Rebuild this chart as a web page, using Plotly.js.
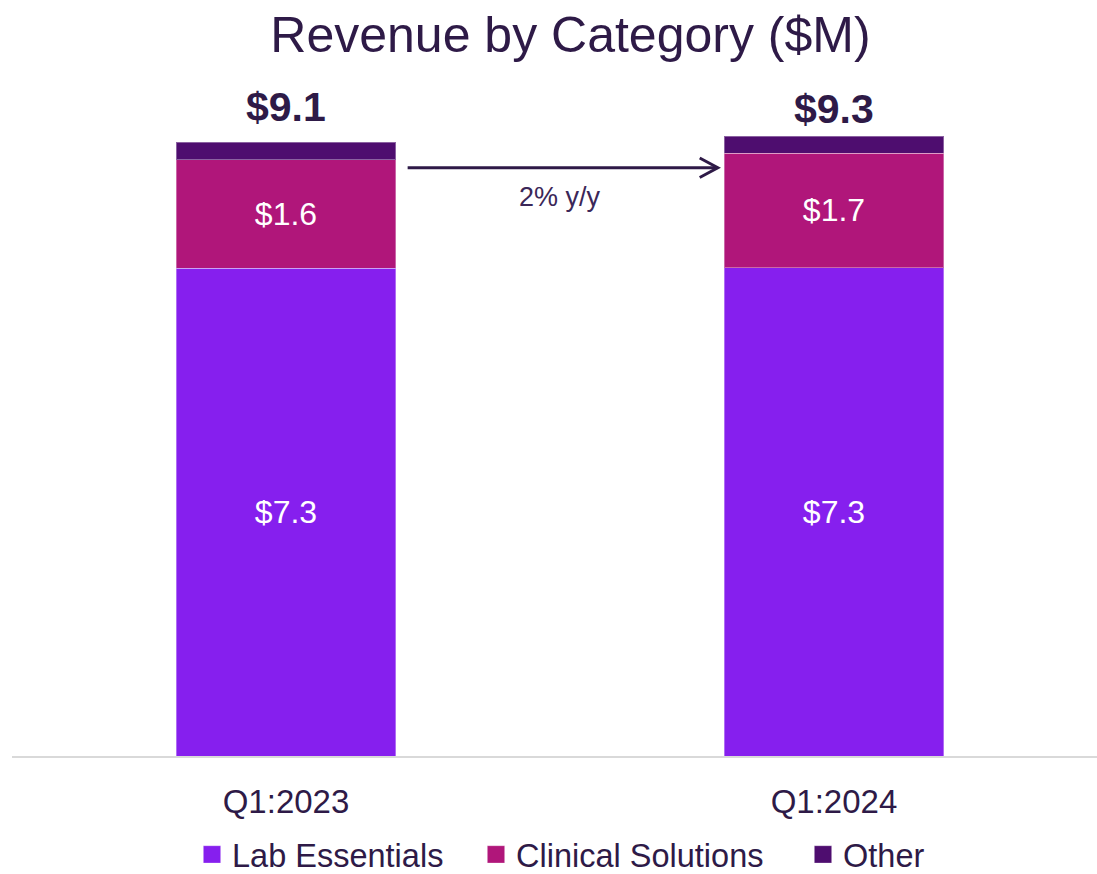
<!DOCTYPE html>
<html>
<head>
<meta charset="utf-8">
<script src="https://cdn.plot.ly/plotly-3.0.1.min.js"></script>
<style>
html,body{margin:0;padding:0;background:#fff;}
#chart{width:1097px;height:874px;}
</style>
</head>
<body>
<div id="chart"></div>
<script>
var categories = ['Q1:2023', 'Q1:2024'];
var labEssentials = [7.28, 7.29];
var clinicalSolutions = [1.62, 1.71];
var other = [0.26, 0.25];
var labLabels = ['$7.3', '$7.3'];
var clinicalLabels = ['$1.6', '$1.7'];
var otherLabels = ['', ''];
var totalLabels = ['$9.1', '$9.3'];
var growthLabel = '2% y/y';

var DARK = '#2E1A47';
var FONT = 'Liberation Sans, Arial, sans-serif';

var totals = categories.map(function (c, i) { return labEssentials[i] + clinicalSolutions[i] + other[i]; });
var totalShift = [35, 27];

function barTrace(name, values, labels, color, legendId) {
  return {
    type: 'bar', name: name, x: categories, y: values, legend: legendId,
    text: labels, texttemplate: '%{text}', textposition: 'inside',
    insidetextanchor: 'middle', textangle: 0, constraintext: 'none',
    textfont: {family: FONT, size: 32, color: '#ffffff'},
    marker: {color: color, line: {color: 'rgba(255,255,255,0.35)', width: 1}},
    width: 0.4, hoverinfo: 'none'
  };
}

var data = [
  barTrace('Lab Essentials', labEssentials, labLabels, '#861FEE', 'legend'),
  barTrace('Clinical Solutions', clinicalSolutions, clinicalLabels, '#B0167A', 'legend2'),
  barTrace('Other', other, otherLabels, '#4E0D6F', 'legend3')
];

var annotations = categories.map(function (c, i) {
  return {
    x: c, y: totals[i], xref: 'x', yref: 'y', text: totalLabels[i],
    showarrow: false, yanchor: 'middle', yshift: totalShift[i],
    font: {family: FONT, size: 41, color: DARK, weight: 'bold'}
  };
});
annotations.push({
  x: 0.5, y: 8.34, xref: 'x', yref: 'y', text: growthLabel, showarrow: false,
  yanchor: 'middle', font: {family: FONT, size: 27, color: '#3B2758'}
});

var arrowY = 8.78;
var shapes = [
  {type: 'line', xref: 'x', yref: 'y', x0: 0.222, x1: 0.787, y0: arrowY, y1: arrowY,
   line: {color: DARK, width: 3}},
  {type: 'path', xref: 'x', yref: 'y',
   path: 'M 0.755 ' + (arrowY + 0.145) + ' L 0.788 ' + arrowY + ' L 0.755 ' + (arrowY - 0.145),
   line: {color: DARK, width: 3}}
];

function legendAt(xpx) {
  return {orientation: 'h', x: xpx / 1097, xref: 'container', xanchor: 'left',
          y: 0.022, yref: 'container', yanchor: 'middle', itemwidth: 30,
          font: {family: FONT, size: 32.5, color: DARK}};
}

var layout = {
  width: 1097, height: 874,
  margin: {l: 12, r: 0, t: 86, b: 118},
  paper_bgcolor: '#ffffff', plot_bgcolor: '#ffffff',
  title: {text: 'Revenue by Category ($M)', x: 0.52, xref: 'container', xanchor: 'center',
          y: 0.96, yref: 'container', yanchor: 'middle',
          font: {family: FONT, size: 50, color: DARK}},
  barmode: 'stack',
  xaxis: {type: 'category', range: [-0.5, 1.48], showline: true, linecolor: '#D9D9D9', linewidth: 2,
          ticks: '', showgrid: false, zeroline: false, ticklabelstandoff: 15,
          tickfont: {family: FONT, size: 33, color: DARK}, fixedrange: true},
  yaxis: {range: [0, 10], visible: false, showgrid: false, zeroline: false, fixedrange: true},
  showlegend: true,
  legend: legendAt(192),
  legend2: legendAt(476),
  legend3: legendAt(803),
  annotations: annotations,
  shapes: shapes
};

Plotly.newPlot('chart', data, layout, {displayModeBar: false, staticPlot: true}).then(function (gd) {
  gd.querySelectorAll('.legendpoints path').forEach(function (p) {
    p.setAttribute('d', 'M8.7,8.7H-8.7V-8.7H8.7Z');
  });
});
</script>
</body>
</html>
